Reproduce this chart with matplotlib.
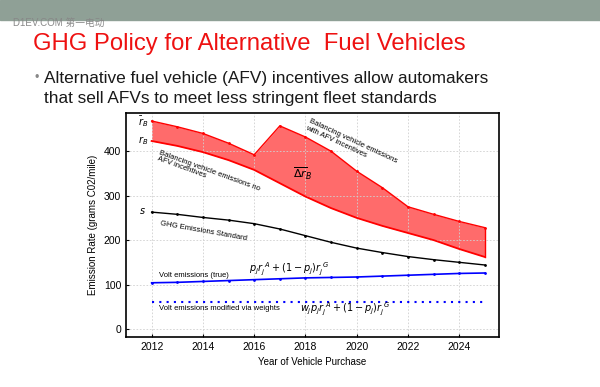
import numpy as np
import matplotlib.pyplot as plt

years = [2012, 2013, 2014, 2015, 2016, 2017, 2018, 2019, 2020, 2021, 2022, 2023, 2024, 2025]
with_afv = [468, 455, 440, 418, 392, 457, 432, 400, 355, 318, 275, 258, 242, 228]
no_afv = [423, 412, 398, 380, 358, 328, 298, 272, 250, 232, 216, 200, 180, 162]
ghg_std = [263, 258, 251, 245, 237, 225, 210, 195, 182, 172, 163, 156, 150, 144]
volt_true = [104, 105, 107, 109, 111, 113, 115, 116, 117, 119, 121, 123, 125, 126]
volt_weighted = [60, 60, 60, 60, 60, 60, 60, 60, 60, 60, 60, 60, 60, 60]

plt.rcParams['font.family'] = ['Liberation Sans', 'Noto Sans CJK SC', 'DejaVu Sans']

fig = plt.figure(figsize=(6, 3.87), dpi=100)
fig.patch.set_facecolor('white')

# slide header band
fig.patches.append(plt.Rectangle((0, 1 - 20 / 387), 1, 20 / 387, transform=fig.transFigure,
                                 color='#8fa096', zorder=0))
fig.text(0.022, 1 - 23 / 387, 'D1EV.COM 第一电动', fontsize=7, color='#888888', va='center')
fig.text(0.055, 1 - 44 / 387, 'GHG Policy for Alternative  Fuel Vehicles', fontsize=17.2,
         color='#ee1111', va='center')
fig.text(0.058, 1 - 78 / 387, '\u2022', fontsize=9, color='#888888', va='center')
fig.text(0.074, 1 - 78 / 387, 'Alternative fuel vehicle (AFV) incentives allow automakers',
         fontsize=12.4, color='#1a1a1a', va='center')
fig.text(0.074, 1 - 99 / 387, 'that sell AFVs to meet less stringent fleet standards',
         fontsize=12.4, color='#1a1a1a', va='center')

ax = fig.add_axes([126 / 600, 1 - 337 / 387, 373 / 600, 224 / 387])
ax.fill_between(years, no_afv, with_afv, color='#ff6b6b', linewidth=0)
ax.plot(years, with_afv, color='red', linewidth=1, marker='.', markersize=2)
ax.plot(years, no_afv, color='red', linewidth=1.3)
ax.plot([years[-1], years[-1]], [no_afv[-1], with_afv[-1]], color='red', linewidth=1)
ax.plot(years, ghg_std, color='black', linewidth=1, marker='.', markersize=2)
ax.plot(years, volt_true, color='blue', linewidth=1.2, marker='.', markersize=2)
ax.plot(years, volt_weighted, color='blue', linewidth=1.5, linestyle=(0, (1, 2.5)))

ax.set_xlim(2011, 2025.55)
ax.set_ylim(-18, 486)
ax.set_xticks(range(2012, 2025, 2))
ax.set_yticks(range(0, 401, 100))
ax.tick_params(direction='in', length=2, labelsize=7.5)
ax.grid(True, color='#d0d0d0', linestyle=(0, (2, 2)), linewidth=0.6)
for s in ax.spines.values():
    s.set_linewidth(1.2)

ax.set_xlabel('Year of Vehicle Purchase', fontsize=7)
ax.set_ylabel('Emission Rate (grams C02/mile)', fontsize=7)

fs = 5.5
ax.text(2011.45, 466, r'$\bar{r}_B$', fontsize=7, va='center')
ax.text(2011.45, 423, r'$r_B$', fontsize=7, va='center')
ax.text(2011.5, 265, r'$s$', fontsize=7, va='center')
ax.text(2012.35, 405, 'Balancing vehicle emissions no\nAFV incentives', fontsize=fs,
        rotation=-20, rotation_mode='anchor', va='top', ha='left', linespacing=1.0)
ax.text(2018.2, 475, 'Balancing vehicle emissions\nwith AFV incentives', fontsize=fs,
        rotation=-25, rotation_mode='anchor', va='top', ha='left', linespacing=1.0)
ax.text(2017.5, 340, r'$\overline{\Delta r}_B$', fontsize=8)
ax.text(2012.35, 245, 'GHG Emissions Standard', fontsize=fs, rotation=-10,
        rotation_mode='anchor', va='top', ha='left')
ax.text(2012.3, 112, 'Volt emissions (true)', fontsize=fs, va='bottom')
ax.text(2015.8, 115, r'$p_j r_j^{\ A}+(1-p_j)r_j^{\ G}$', fontsize=7, va='bottom')
ax.text(2012.3, 45, 'Volt emissions modified via weights', fontsize=fs, va='center')
ax.text(2017.8, 45, r'$w_j p_j r_j^{\ A}+(1-p_j)r_j^{\ G}$', fontsize=7, va='center')

fig.savefig('out.png', dpi=100)
